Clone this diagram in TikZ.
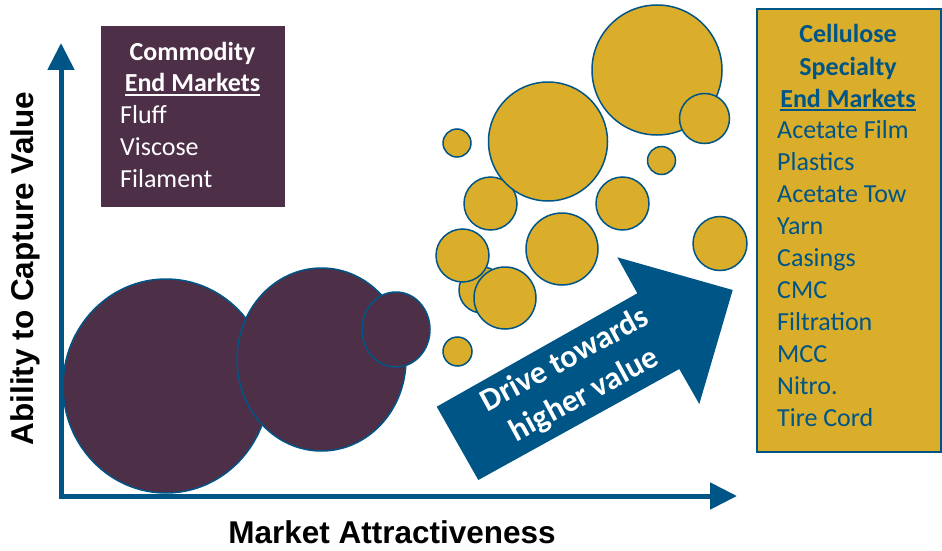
\documentclass[tikz,border=0pt]{standalone}
\usepackage{fontspec}
\setmainfont{Carlito}
\newfontfamily\axisfont{Liberation Sans}
\usetikzlibrary{arrows.meta}
\definecolor{plum}{HTML}{4E2F48}
\definecolor{gold}{HTML}{DAAD2A}
\definecolor{navy}{HTML}{005587}
\newcommand\myul[1]{\setbox0\hbox{#1}\rlap{\rule[-4pt]{\wd0}{2pt}}\box0}
\begin{document}
\begin{tikzpicture}[x=1pt,y=-1pt,
  boxtxt/.style={font=\fontsize{26}{32}\selectfont, inner sep=0pt},
  axislbl/.style={font=\axisfont\bfseries\fontsize{31.5}{36}\selectfont, inner sep=0pt, text=black},
  axisline/.style={navy, line width=5pt, line join=miter,
     {Triangle[width=26pt,length=27pt]}-{Triangle[width=26pt,length=27pt]}},
  purplec/.style={fill=plum, draw=navy, line width=1.5pt},
  goldc/.style={fill=gold, draw=navy, line width=1.5pt},
  commbox/.style={fill=plum, draw=none, minimum width=184pt, minimum height=181pt, inner sep=0pt},
  specbox/.style={fill=gold, draw=navy, line width=2pt, minimum width=184pt, minimum height=443pt, inner sep=0pt}]
\useasboundingbox (0,0) rectangle (942,551);

% axes
\coordinate (ytop) at (61,43);
\coordinate (origin) at (61,496);
\coordinate (xend) at (737,496);
\draw[axisline] (ytop) -- (origin) -- (xend);
\node[axislbl, rotate=90, anchor=base] (ylabel) at (33,268.5) {Ability to Capture Value};
\node[axislbl, anchor=base] (xlabel) at (392,543) {Market Attractiveness};

% purple bubbles
\draw[purplec] (166,386) ellipse [x radius=103pt, y radius=107pt];
\draw[purplec] (321.5,359.5) ellipse [x radius=84.5pt, y radius=91.5pt];
\draw[purplec] (396,329.5) ellipse [x radius=34pt, y radius=37.5pt];

% gold bubbles
\draw[goldc] (457,143) circle (14pt);
\draw[goldc] (661.5,160.5) circle (14pt);
\draw[goldc] (457.5,351.5) circle (14.5pt);
\draw[goldc] (657,70) circle (65pt);
\draw[goldc] (704.5,118.5) circle (25pt);
\draw[goldc] (490.5,203.5) circle (26.5pt);
\draw[goldc] (548,141.5) circle (59.5pt);
\draw[goldc] (622.5,203.5) circle (26.5pt);
\draw[goldc] (720,243.5) circle (27pt);
\draw[goldc] (562,249) circle (36pt);
\draw[goldc] (482,290) circle (23pt);
\draw[goldc] (462.5,255.5) circle (26.5pt);
\draw[goldc] (505,298) circle (31pt);

% big arrow
\fill[navy] (436.7,406.7) -- (637.3,293.3) -- (617.3,257.3) -- (732.7,290)
  -- (699.3,404) -- (679.3,369) -- (478.3,480) -- cycle;
\node[font=\bfseries\fontsize{32}{40}\selectfont, text=white, align=center,
  rotate=28.5, inner sep=0pt] (drive) at (575,378) {Drive towards\\higher value};

% commodity box
\node[commbox] (cbox) at (193,116.5) {};
\node[boxtxt, text=white, anchor=base] (c1) at (192.5,60) {\bfseries Commodity};
\node[boxtxt, text=white, anchor=base] (c2) at (192.5,92) {\bfseries\myul{End Markets}};
\foreach \t [count=\i] in {Fluff, Viscose, Filament}
  \node[boxtxt, text=white, anchor=base west] (ci\i) at (120,91+32*\i) {\t};

% specialty box
\node[specbox] (sbox) at (849,230.5) {};
\node[boxtxt, text=navy, anchor=base] (s1) at (848,43) {\bfseries Cellulose};
\node[boxtxt, text=navy, anchor=base] (s2) at (848,75) {\bfseries Specialty};
\node[boxtxt, text=navy, anchor=base] (s3) at (848,107) {\bfseries\myul{End Markets}};
\foreach \t [count=\i] in {Acetate Film, Plastics, Acetate Tow, Yarn, Casings, CMC, Filtration, MCC, Nitro., Tire Cord}
  \node[boxtxt, text=navy, anchor=base west] (si\i) at (777,106+32*\i) {\t};
\end{tikzpicture}
\end{document}
